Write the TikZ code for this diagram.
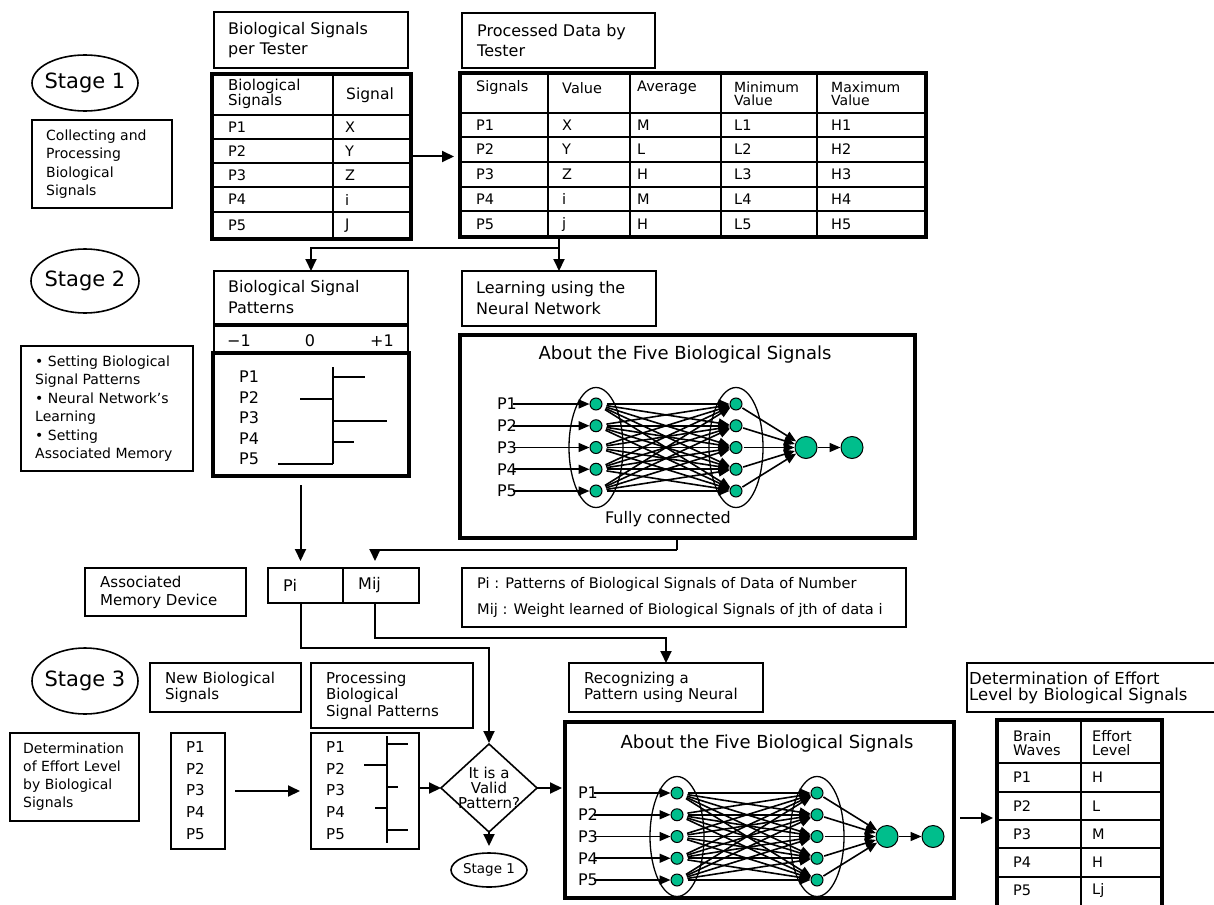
\documentclass[tikz,border=0pt]{standalone}
\usepackage{fontspec}
\setmainfont{DejaVu Sans}
\usetikzlibrary{arrows.meta,shapes.geometric,calc}
\newcommand\fs[2]{\fontsize{#1}{#2}\selectfont}
\definecolor{nodeteal}{RGB}{0,190,140}
\tikzset{
 box/.style={draw, line width=1.6pt, anchor=north west, inner sep=0pt, outer sep=0pt},
 tbl/.style={draw, line width=4.5pt, anchor=north west, inner sep=0pt, outer sep=0pt},
 grid/.style={line width=1.6pt},
 txt/.style={anchor=west, align=left, inner sep=0pt},
 cell/.style={anchor=west, align=left, inner sep=0pt, font=\fs{14.5}{16}},
 arr/.style={line width=2pt, -{Triangle[length=12pt,width=11pt]}},
 ln/.style={line width=2pt},
 bar/.style={line width=1.6pt},
 stg/.style={draw, ellipse, line width=1.6pt, inner sep=0pt, outer sep=0pt},
 sn/.style={circle, draw, line width=1pt, fill=nodeteal, minimum size=12pt, inner sep=0pt},
 bn/.style={circle, draw, line width=1pt, fill=nodeteal, minimum size=22pt, inner sep=0pt},
 nel/.style={ellipse, draw, line width=1.3pt, minimum width=54pt, minimum height=120pt, inner sep=0pt},
 nar/.style={line width=1.6pt, -{Triangle[length=11pt,width=9pt]}},
 lbl/.style={inner sep=0pt, font=\fs{16}{18}},
}
\newcommand\tbox[8]{%
 \node[box, minimum width=#4pt, minimum height=#5pt] (#1) at (#2,#3) {};
 \node[txt, font=#7] (#1t) at ([xshift=#6pt]#1.west) {#8};}
\newcommand\nnet[3]{%
 \node[nel] (#1el) at (#2,#3) {};
 \node[nel] (#1er) at (#2+140,#3) {};
 \foreach \i in {1,...,5}{%
   \pgfmathsetmacro\yy{#3+(\i-3)*21.75}%
   \node[sn] (#1l\i) at (#2,\yy) {};
   \node[sn] (#1r\i) at (#2+140,\yy) {};
   \node[lbl] (#1p\i) at (#2-89,\yy) {P\i};
 }
 \node[bn] (#1b1) at (#2+210,#3) {};
 \node[bn] (#1b2) at (#2+256,#3) {};
 \foreach \i in {1,...,5}{%
   \draw[nar] ([xshift=-4pt]#1p\i.east) -- (#1l\i.west);
   \foreach \j in {1,...,5}{\draw[nar, shorten <=4pt] (#1l\i) -- (#1r\j);}
   \draw[nar, shorten <=1pt] (#1r\i) -- (#1b1);
 }
 \draw[nar] (#1b1) -- (#1b2);
}
\begin{document}
\begin{tikzpicture}[x=1pt,y=-1pt]
\useasboundingbox (0,0) rectangle (1214,904);
\clip (0,0) rectangle (1214,904);

% ---------- Stage 1 ----------
\node[stg, minimum width=106pt, minimum height=56pt] (st1) at (85,83) {};
\node[txt, anchor=center, font=\fs{21}{24}] (st1t) at (st1) {Stage 1};
\tbox{col}{32}{120}{140}{88}{14}{\fs{14}{18.3}}{Collecting and\\Processing\\Biological\\Signals}
\tbox{bst}{214}{12}{194}{56}{14}{\fs{16}{20}}{Biological Signals\\per Tester}
\tbox{pdt}{462}{13}{193}{55}{15}{\fs{16}{20}}{Processed Data by\\Tester}

% table 1
\draw[grid] (333,74) -- (333,239);
\foreach \y in {115,139,163,187,212} \draw[grid] (212,\y) -- (411,\y);
\node[tbl, minimum width=199pt, minimum height=165pt] (tab1) at (212,74) {};
\node[cell, font=\fs{15}{13}] (t1h1) at (228,94) {Biological\\Signals};
\node[cell, font=\fs{15.5}{17}] (t1h2) at (346,95) {Signal};
\foreach \y/\a/\b [count=\k] in {127/P1/X,151/P2/Y,175/P3/Z,199.5/P4/i,225.5/P5/J}{
  \node[cell] (t1a\k) at (228,\y) {\a};
  \node[cell] (t1b\k) at (345,\y) {\b};
}

% table 2
\foreach \x in {548,630,721,817} \draw[grid] (\x,73) -- (\x,237);
\foreach \y in {113,137,162,187,211} \draw[grid] (460,\y) -- (926,\y);
\node[tbl, minimum width=466pt, minimum height=164pt] (tab2) at (460,73) {};
\node[cell] (t2h1) at (476,88) {Signals};
\node[cell] (t2h2) at (562,88) {Value};
\node[cell] (t2h3) at (637,88) {Average};
\node[cell, font=\fs{14}{13.5}] (t2h4) at (734,94) {Minimum\\Value};
\node[cell, font=\fs{14}{13.5}] (t2h5) at (831,94) {Maximum\\Value};
\foreach \y/\a/\b/\c/\d/\e [count=\k] in {125/P1/X/M/L1/H1,149.5/P2/Y/L/L2/H2,174.5/P3/Z/H/L3/H3,199/P4/i/M/L4/H4,224/P5/j/H/L5/H5}{
  \node[cell] (t2a\k) at (476,\y) {\a};
  \node[cell] (t2b\k) at (562,\y) {\b};
  \node[cell] (t2c\k) at (637,\y) {\c};
  \node[cell] (t2d\k) at (734,\y) {\d};
  \node[cell] (t2e\k) at (831,\y) {\e};
}
\draw[arr, shorten >=6pt] (tab1.east) -- (tab1.east -| tab2.west);

% ---------- Stage 2 ----------
\node[stg, minimum width=108pt, minimum height=64pt] (st2) at (85,281) {};
\node[txt, anchor=center, font=\fs{21}{24}] (st2t) at (st2) {Stage 2};
\tbox{bul}{21}{346}{172}{125}{14}{\fs{14}{18.5}}{• Setting Biological\\Signal Patterns\\• Neural Network’s\\Learning\\• Setting\\Associated Memory}
\tbox{bsp}{214}{271}{194}{53}{14}{\fs{16}{21}}{Biological Signal\\Patterns}
\tbox{lnn}{462}{271}{194}{55}{14}{\fs{16}{21}}{Learning using the\\Neural Network}
\node[box, minimum width=194pt, minimum height=27pt] (scl) at (214,326) {};
\node[txt, anchor=center, font=\fs{16}{18}] (sm1) at (239,341) {−1};
\node[txt, anchor=center, font=\fs{16}{18}] (s0) at (310,341) {0};
\node[txt, anchor=center, font=\fs{16}{18}] (sp1) at (382,341) {+1};
\node[tbl, minimum width=196pt, minimum height=123pt] (pbx) at (213,353) {};
\foreach \y [count=\k] in {377,398,418,439,459}
  \node[txt, font=\fs{16}{18}] (pp\k) at (239,\y) {P\k};
\draw[bar] (333,367) -- (333,464);
\draw[bar] (333,377) -- (365,377);
\draw[bar] (300,399) -- (333,399);
\draw[bar] (333,421) -- (387,421);
\draw[bar] (333,442) -- (354,442);
\draw[bar] (278,464) -- (333,464);

\coordinate (j1) at (559,248);
\draw[ln] (tab2.south -| j1) -- (j1);
\draw[arr] (j1) -| (bsp.north);
\draw[arr] (j1) -- (lnn.north);

% neural network 1
\node[tbl, minimum width=455pt, minimum height=203pt] (nn1) at (460,335) {};
\node[txt, anchor=center, font=\fs{18}{20}] (nn1t) at (685,355) {About the Five Biological Signals};
\nnet{a}{596}{447.5}
\node[txt, anchor=center, font=\fs{16}{18}] (nn1f) at (668,519) {Fully connected};

% associated memory
\tbox{amd}{85}{568}{161}{48}{15}{\fs{15}{18}}{Associated\\Memory Device}
\tbox{pi}{268}{568}{75}{35}{15}{\fs{16}{18}}{Pi}
\tbox{mij}{343}{568}{76}{35}{15}{\fs{16}{18}}{Mij}
\tbox{leg}{462}{568}{444}{59}{15}{\fs{14.6}{26}}{Pi : Patterns of Biological Signals of Data of Number\\Mij : Weight learned of Biological Signals of jth of data i}
\draw[arr, shorten <=9pt, shorten >=7pt] ([xshift=-5pt]pbx.south -| pi.north) -- ([xshift=-5pt]pi.north);
\coordinate (j2) at (677,550);
\draw[ln] (nn1.south -| j2) -- (j2);
\draw[arr, shorten >=7pt] (j2) -| ([xshift=-6pt]mij.north);

% ---------- Stage 3 ----------
\node[stg, minimum width=106pt, minimum height=66pt] (st3) at (85,681) {};
\node[txt, anchor=center, font=\fs{21}{24}] (st3t) at (st3) {Stage 3};
\tbox{nbs}{150}{663}{151}{49}{15}{\fs{15}{16.5}}{New Biological\\Signals}
\tbox{pbs}{311}{663}{162}{65}{15}{\fs{15}{16.5}}{Processing\\Biological\\Signal Patterns}
\tbox{det}{10}{733}{129}{88}{13}{\fs{14}{18}}{Determination\\of Effort Level\\by Biological\\Signals}
\tbox{rec}{569}{663}{194}{49}{15}{\fs{15}{16.5}}{Recognizing a\\Pattern using Neural}
\tbox{dre}{967}{663}{260}{49}{2}{\fs{16.5}{16}}{Determination of Effort\\Level by Biological Signals}

\node[box, minimum width=54pt, minimum height=116pt] (plist) at (171,733) {};
\node[box, minimum width=108pt, minimum height=116pt] (pb2) at (311,733) {};
\foreach \y [count=\k] in {747,768.5,790,812,834}{
  \node[txt, font=\fs{15}{17}] (pl\k) at (186,\y) {P\k};
  \node[txt, font=\fs{15}{17}] (pq\k) at (326,\y) {P\k};
}
\draw[bar] (387,736) -- (387,843);
\draw[bar] (387,744) -- (408,744);
\draw[bar] (364,765) -- (387,765);
\draw[bar] (387,787) -- (398,787);
\draw[bar] (375,808) -- (387,808);
\draw[bar] (387,830) -- (408,830);

\node[diamond, draw, line width=1.6pt, minimum width=96pt, minimum height=88pt, inner sep=0pt, outer sep=0pt] (dia) at (489,788) {};
\node[align=center, inner sep=0pt, font=\fs{15}{15}] (diat) at (dia) {It is a\\Valid\\Pattern?};
\node[stg, minimum width=76pt, minimum height=34pt] (s1s) at (489,870) {};
\node[txt, anchor=center, font=\fs{13.5}{15}] (s1st) at (s1s) {Stage 1};

% neural network 2
\node[tbl, minimum width=389pt, minimum height=176pt] (nn2) at (565,722) {};
\node[txt, anchor=center, font=\fs{18}{20}] (nn2t) at (767,744) {About the Five Biological Signals};
\nnet{b}{677}{836.5}

% table 3
\draw[grid] (1081,720) -- (1081,915);
\foreach \y in {763,792,820,848,877} \draw[grid] (997,\y) -- (1162,\y);
\node[tbl, minimum width=165pt, minimum height=195pt] (tab3) at (997,720) {};
\node[cell, font=\fs{14.5}{14}] (t3h1) at (1013,743.5) {Brain\\Waves};
\node[cell, font=\fs{14.5}{14}] (t3h2) at (1092,743.5) {Effort\\Level};
\foreach \y/\a/\b [count=\k] in {777.5/P1/H,806/P2/L,834/P3/M,862.5/P4/H,890/P5/Lj}{
  \node[cell] (t3a\k) at (1013,\y) {\a};
  \node[cell] (t3b\k) at (1092,\y) {\b};
}

% connectors stage 3
\draw[arr, shorten >=1pt] ([xshift=-5pt]pi.south) -- ++(0,45) -| (dia.north);
\draw[arr] ([xshift=-6pt]mij.south) -- ++(0,35) -| (rec.north);
\draw[arr, shorten <=10pt, shorten >=11pt] (plist.east) -- (plist.east -| pb2.west);
\draw[arr] (pb2.east |- dia.west) -- (dia.west);
\draw[arr, shorten >=3pt] (dia.east) -- (dia.east -| nn2.west);
\draw[arr, shorten >=7pt] (dia.south) -- (s1s.north);
\draw[arr, shorten <=6pt, shorten >=4pt] ([yshift=-8pt]nn2.east) -- ([yshift=-8pt]nn2.east -| tab3.west);
\end{tikzpicture}
\end{document}
